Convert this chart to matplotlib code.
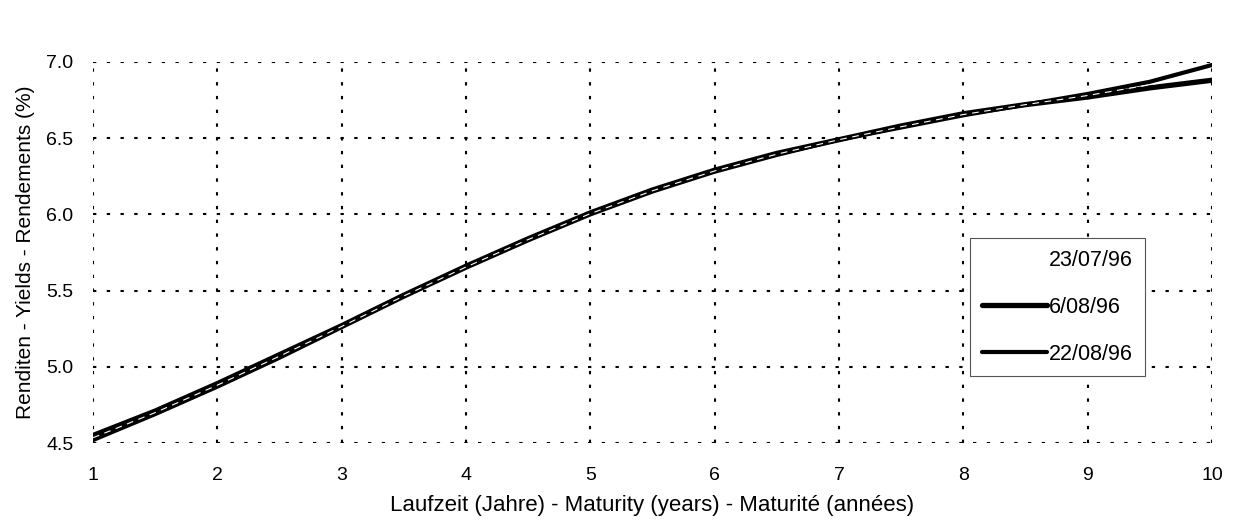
import matplotlib
matplotlib.use("Agg")
import matplotlib.pyplot as plt

plt.rcParams['font.family'] = ['Liberation Sans', 'DejaVu Sans']

maturity = [1, 1.5, 2, 2.5, 3, 3.5, 4, 4.5, 5, 5.5, 6, 6.5, 7, 7.5, 8, 8.5, 9, 9.5, 10]
y_0608 = [4.55, 4.71, 4.89, 5.08, 5.27, 5.47, 5.66, 5.84, 6.01, 6.16, 6.29, 6.40,
          6.49, 6.58, 6.66, 6.72, 6.77, 6.83, 6.88]
y_2208 = [4.52, 4.69, 4.87, 5.06, 5.26, 5.46, 5.65, 5.83, 6.00, 6.15, 6.28, 6.39,
          6.49, 6.57, 6.65, 6.72, 6.79, 6.87, 6.98]
y_2307 = [4.535, 4.70, 4.88, 5.07, 5.265, 5.465, 5.655, 5.835, 6.005, 6.155, 6.285, 6.395,
          6.49, 6.575, 6.655, 6.72, 6.78, 6.85, 6.93]
labels = ["23/07/96", "6/08/96", "22/08/96"]
xticks = list(range(1, 11))
yticks = [4.5, 5.0, 5.5, 6.0, 6.5, 7.0]

fig = plt.figure(figsize=(12.55, 5.25), dpi=100)
ax = fig.add_axes([0.0741, 0.156, 0.8916, 0.726])

l1, = ax.plot(maturity, y_0608, color='black', lw=3.8, solid_capstyle='round', zorder=3)
l2, = ax.plot(maturity, y_2208, color='black', lw=3.0, solid_capstyle='round', zorder=3)
l0, = ax.plot(maturity, y_2307, color='white', lw=0.8, ls=(0, (6, 5)), zorder=4)

ax.set_xlim(1, 10)
ax.set_ylim(4.5, 7.0)
ax.set_xticks(xticks)
ax.set_yticks(yticks)
ax.set_xticklabels([str(v) for v in xticks])
ax.set_yticklabels([f"{v:.1f}" for v in yticks])
ax.tick_params(length=0, labelsize=14)
ax.tick_params(axis='x', pad=17)
ax.tick_params(axis='y', pad=14)
for s in ax.spines.values():
    s.set_visible(False)
ax.grid(True, color='black', lw=1.5, ls=(0, (1.6, 5)))
ax.set_axisbelow(True)

ax.set_xlabel("Laufzeit (Jahre) - Maturity (years) - Maturité (années)", fontsize=16, labelpad=8)
ax.set_ylabel("Renditen - Yields - Rendements (%)", fontsize=15, labelpad=8)

leg = ax.legend([l0, l1, l2], labels, loc='upper left', bbox_to_anchor=(0.784, 0.538),
                fontsize=15.5, frameon=True, fancybox=False, handlelength=3.0,
                handletextpad=0.1, labelspacing=1.2, borderpad=0.55, borderaxespad=0)
leg.get_frame().set_edgecolor('#555555')
leg.get_frame().set_linewidth(0.8)
leg.get_frame().set_alpha(1)

fig.savefig("out.png", dpi=100)
